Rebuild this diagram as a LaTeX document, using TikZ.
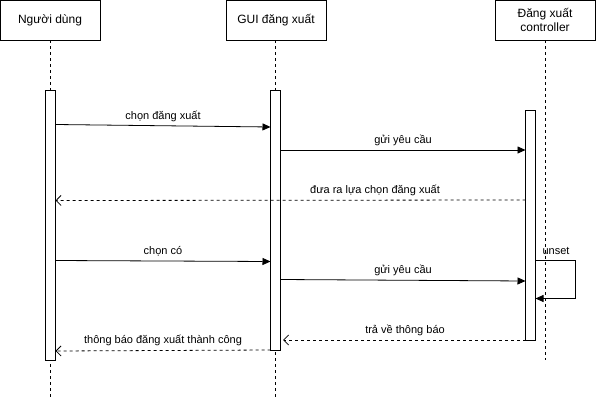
\documentclass[tikz,border=0pt]{standalone}
\usepackage{fontspec}
\setmainfont{Liberation Sans}
\usetikzlibrary{arrows.meta}
\begin{document}
\begin{tikzpicture}[x=1pt,y=-1pt,
  actor/.style={draw,line width=0.9pt,minimum width=100pt,minimum height=40pt,inner sep=0pt,font=\fontsize{12}{14}\selectfont,align=center},
  lifeline/.style={line width=0.8pt,dash pattern=on 3pt off 3pt},
  act/.style={draw,fill=white,line width=0.9pt,minimum width=10pt,inner sep=0pt},
  msg/.style={line width=0.8pt,-{Triangle[length=8pt,width=7pt]}},
  ret/.style={line width=0.8pt,dash pattern=on 3pt off 3pt,-{Straight Barb[length=5pt,width=10pt]}},
  lbl/.style={font=\fontsize{11}{13}\selectfont,inner sep=1pt}]
\useasboundingbox (0,0) rectangle (596,401);
% actors
\node[actor] (u) at (50,20) {Người dùng};
\node[actor] (g) at (276,20) {GUI đăng xuất};
\node[actor] (c) at (545,20) {Đăng xuất\\controller};
% lifelines
\coordinate (uend) at (50.5,398);
\coordinate (gend) at (275.5,398);
\coordinate (cend) at (545.5,360);
\draw[lifeline] (u.south -| uend) -- (uend);
\draw[lifeline] (g.south -| gend) -- (gend);
\draw[lifeline] (c.south -| cend) -- (cend);
% activations
\node[act,minimum height=270pt] (ua) at (50.5,225) {};
\node[act,minimum height=260pt] (ga) at (275.5,220) {};
\node[act,minimum height=230pt] (ca) at (530.5,225) {};
% messages
\coordinate (m1s) at (55.5,124.5);
\coordinate (m1e) at (270.5,127);
\draw[msg] (m1s) -- (m1e) node[lbl,midway,above=3pt] {chọn đăng xuất};
\coordinate (m2s) at (280.5,150);
\coordinate (m2e) at (525.5,150);
\draw[msg] (m2s) -- (m2e) node[lbl,midway,above=3pt] {gửi yêu cầu};
\coordinate (m3s) at (525.5,200);
\coordinate (m3e) at (55.5,200.5);
\draw[ret] (m3s) -- (m3e);
\node[lbl] (l3) at (375,190) {đưa ra lựa chọn đăng xuất};
\coordinate (m4s) at (55.5,260.5);
\coordinate (m4e) at (270.5,261.5);
\draw[msg] (m4s) -- (m4e) node[lbl,midway,above=3pt] {chọn có};
\coordinate (m5s) at (280.5,279.5);
\coordinate (m5e) at (525.5,281);
\draw[msg] (m5s) -- (m5e) node[lbl,midway,above=3pt] {gửi yêu cầu};
% self message
\coordinate (s1) at (535.5,260.5);
\coordinate (s2) at (575.5,260.5);
\coordinate (s3) at (575.5,298.5);
\coordinate (s4) at (535.5,298.5);
\draw[msg] (s1) -- (s2) -- (s3) -- (s4);
\node[lbl] (l6) at (556,251) {unset};
% returns
\coordinate (m7s) at (525.5,340);
\coordinate (m7e) at (283,340);
\draw[ret] (m7s) -- (m7e);
\node[lbl] (l7) at (405,330.5) {trả về thông báo};
\coordinate (m8s) at (270.5,350);
\coordinate (m8e) at (55.5,351);
\draw[ret] (m8s) -- (m8e);
\node[lbl] (l8) at (163,340) {thông báo đăng xuất thành công};
\end{tikzpicture}
\end{document}
